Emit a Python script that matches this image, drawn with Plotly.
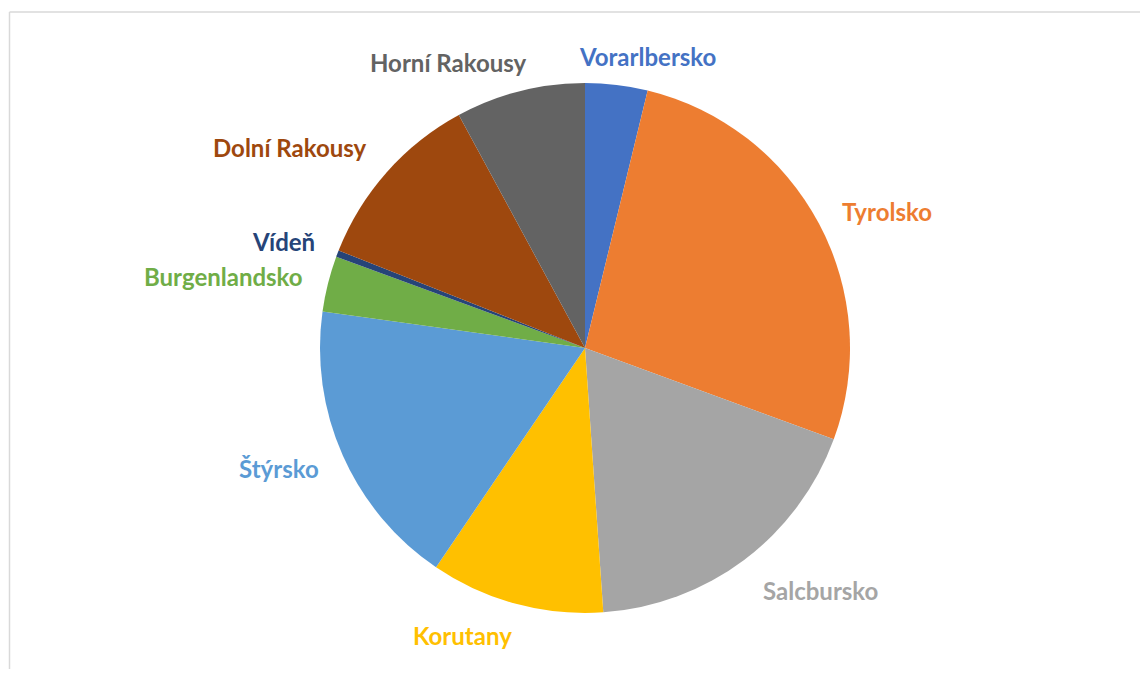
import plotly.graph_objects as go

# Slices, clockwise from 12 o'clock
regions = ["Vorarlbersko", "Tyrolsko", "Salcbursko", "Korutany", "Štýrsko",
           "Burgenlandsko", "Vídeň", "Dolní Rakousy", "Horní Rakousy"]
shares = [3.8, 26.8, 18.3, 10.6, 17.7, 3.4, 0.4, 11.1, 7.9]
colors = ["#4472C4", "#ED7D31", "#A5A5A5", "#FFC000", "#5B9BD5",
          "#70AD47", "#264478", "#9E480E", "#636363"]

# label centres in page pixels (x, y from top)
label_pos = {
    "Vorarlbersko": (647, 56),
    "Tyrolsko": (887, 211),
    "Salcbursko": (820, 590),
    "Korutany": (462, 635),
    "Štýrsko": (279, 468),
    "Burgenlandsko": (223, 276),
    "Vídeň": (283, 241),
    "Dolní Rakousy": (290, 148),
    "Horní Rakousy": (448, 62),
}

OFF = 8  # default body margin of the html page
W, H = 1148 - 2 * OFF, 677 - 2 * OFF  # keep the page from overflowing (no scrollbars)
cx, cy, r = 585 - OFF, 348 - OFF, 265

fig = go.Figure(go.Pie(
    labels=regions,
    values=shares,
    marker=dict(colors=colors, line=dict(width=0)),
    sort=False,
    direction="clockwise",
    rotation=0,
    textinfo="none",
    hoverinfo="label+percent",
    domain=dict(x=[(cx - r) / W, (cx + r) / W], y=[(H - cy - r) / H, (H - cy + r) / H]),
    showlegend=False,
))

for name, col in zip(regions, colors):
    px_, py_ = label_pos[name]
    fig.add_annotation(
        x=(px_ - OFF) / W, y=1 - (py_ - OFF) / H, xref="paper", yref="paper",
        text=name, showarrow=False,
        font=dict(family="Lato, Carlito, sans-serif", size=24, color=col, weight="bold"),
        xanchor="center", yanchor="middle",
    )

# chart area border: only its left and top edges are in view
bx = (9.5 - OFF) / W
by = 1 - (12 - OFF) / H
border = dict(color="#D9D9D9", width=1.5)
fig.add_shape(type="line", xref="paper", yref="paper", x0=bx, y0=-0.1, x1=bx, y1=by, line=border)
fig.add_shape(type="line", xref="paper", yref="paper", x0=bx, y0=by, x1=1.1, y1=by, line=border)

fig.update_layout(
    width=W, height=H,
    margin=dict(l=0, r=0, t=0, b=0),
    paper_bgcolor="white",
    plot_bgcolor="white",
)

fig.write_html("out.html")
